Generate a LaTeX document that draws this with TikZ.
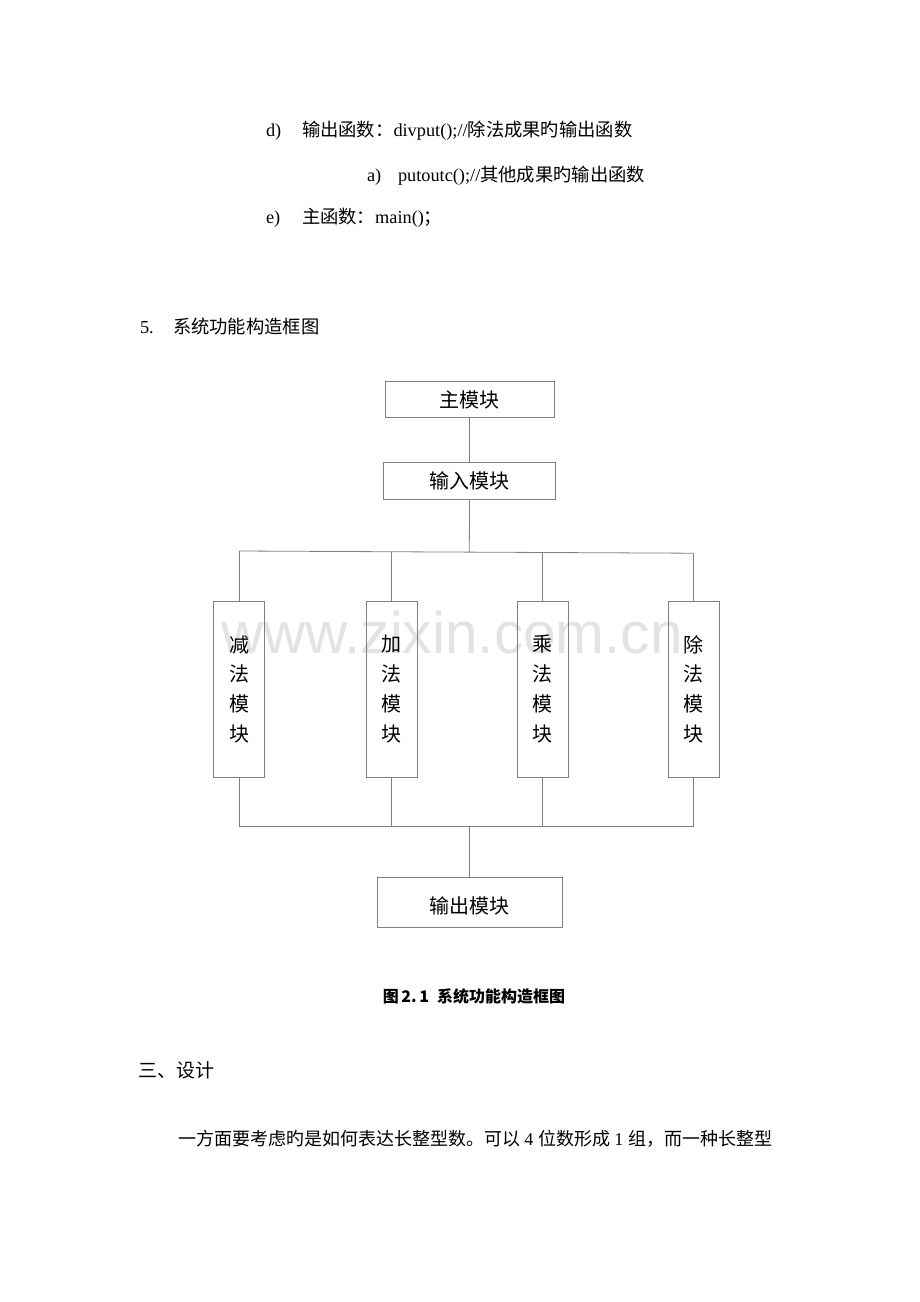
\documentclass[tikz,border=0pt]{standalone}
\usepackage{fontspec}
\setmainfont{Liberation Serif}
\newfontfamily\cjk{Noto Sans CJK SC}
\newfontfamily\wmfont{Liberation Sans}
\newcommand{\fsz}[1]{\fontsize{#1}{#1}\selectfont}
\tikzset{
  txt/.style={anchor=base west, inner sep=0pt, outer sep=0pt},
  hbox/.style={draw=black!50, line width=0.8pt, inner sep=0pt, font=\cjk\fsz{20}},
  vbox/.style={draw=black!50, line width=0.8pt, inner sep=0pt, minimum width=51pt, minimum height=176pt, align=center, font=\cjk\fontsize{20}{29.7}\selectfont},
  conn/.style={draw=black!50, line width=0.8pt},
}
\begin{document}
\begin{tikzpicture}[x=1pt,y=-1pt]
\useasboundingbox (0,0) rectangle (920,1302);
\fill[white] (0,0) rectangle (920,1302);
% watermark
\node[txt, text=black!11, font=\wmfont\fsz{58.5}] (wm) at (221,653) {www.zixin.com.cn};
% top text
\node[txt, font=\fsz{18.3}] (l1a) at (266,136) {d)};
\node[txt, font=\fsz{18.3}] (l1b) at (302,136) {{\cjk 输出函数：}divput();//{\cjk 除法成果旳输出函数}};
\node[txt, font=\fsz{18.3}] (l2a) at (367,181) {a)};
\node[txt, font=\fsz{18.3}] (l2b) at (398,181) {putoutc();//{\cjk 其他成果旳输出函数}};
\node[txt, font=\fsz{18.3}] (l3a) at (266,223) {e)};
\node[txt, font=\fsz{18.3}] (l3b) at (302,223) {{\cjk 主函数：}main(){\cjk ；}};
\node[txt, font=\fsz{18.3}] (h5a) at (140,333) {5.};
\node[txt, font=\fsz{18.3}] (h5b) at (173,333) {\cjk 系统功能构造框图};
% boxes
\node[hbox, minimum width=169pt, minimum height=36pt] (main) at (469.5,399.5) {主模块};
\node[hbox, minimum width=172pt, minimum height=37pt] (inp) at (469.5,481) {输入模块};
\node[vbox] (sub) at (239,689) {减\\法\\模\\块};
\node[vbox] (add) at (391.5,689) {加\\法\\模\\块};
\node[vbox] (mul) at (542.5,689) {乘\\法\\模\\块};
\node[vbox] (div) at (693.5,689) {除\\法\\模\\块};
\node[hbox, minimum width=185pt, minimum height=50pt, text depth=0pt, text height=14pt, align=center] (out) at (469.8,902.5) {\raisebox{-4pt}{输出模块}};
% junction coordinates
\coordinate (t1) at (239,551);
\coordinate (t2) at (391,551.6);
\coordinate (tc) at (469.3,551.9);
\coordinate (t3) at (542.3,552.5);
\coordinate (t4) at (693.3,553.2);
\coordinate (b1) at (239,826.5);
\coordinate (b2) at (391,826.5);
\coordinate (bc) at (469.8,826.5);
\coordinate (b3) at (542.3,826.5);
\coordinate (b4) at (693.3,826.5);
% connectors
\draw[conn] (main.south) -- (main.south |- inp.north);
\draw[conn] (inp.south) -- (tc);
\draw[conn] (t1) -- (t4);
\draw[conn] (t1) -- (sub.north);
\draw[conn] (t2) -- (t2 |- add.north);
\draw[conn] (t3) -- (t3 |- mul.north);
\draw[conn] (t4) -- (t4 |- div.north);
\draw[conn] (sub.south) -- (b1);
\draw[conn] (b2 |- add.south) -- (b2);
\draw[conn] (b3 |- mul.south) -- (b3);
\draw[conn] (b4 |- div.south) -- (b4);
\draw[conn] (b1) -- (b4);
\draw[conn] (bc) -- (bc |- out.north);
% caption
\node[inner sep=0pt, anchor=base, font=\cjk\bfseries\fsz{16}] (cap) at (474,1002) {图\,2.\,1\enspace 系统功能构造框图};
% section
\node[txt, font=\cjk\fsz{19}] (sec) at (138,1077) {三、设计};
\node[txt, font=\fsz{18}] (para) at (178,1145) {{\cjk 一方面要考虑旳是如何表达长整型数。可以}\ 4\ {\cjk 位数形成}\ 1\ {\cjk 组，而一种长整型}};
\end{tikzpicture}
\end{document}
